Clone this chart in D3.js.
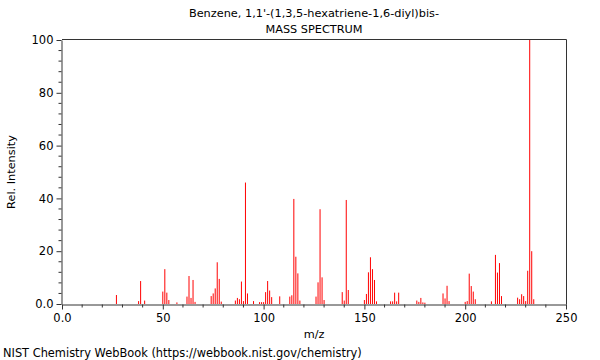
<!DOCTYPE html>
<html>
<head>
<meta charset="utf-8">
<script src="https://cdn.jsdelivr.net/npm/d3@7"></script>
<style>
  body { margin: 0; background: #fff; }
  text { font-family: "DejaVu Sans", sans-serif; }
</style>
</head>
<body>
<svg id="chart" width="600" height="360"></svg>
<script>
const titleLines = ["Benzene, 1,1'-(1,3,5-hexatriene-1,6-diyl)bis-", "MASS SPECTRUM"];
const footer = "NIST Chemistry WebBook (https://webbook.nist.gov/chemistry)";

// m/z and relative intensity
const mz = [27, 38, 39, 41, 50, 51, 52, 53, 57,
  62, 63, 64, 65, 66, 74, 75, 76, 77, 78, 79,
  86, 87, 88, 89, 90, 91, 92, 95, 98, 99, 100, 101, 102, 103, 104, 108,
  113, 114, 115, 116, 117, 118, 126, 127, 128, 129, 130,
  139, 140, 141, 142, 150, 151, 152, 153, 154, 155, 156,
  163, 164, 165, 166, 167, 176, 177, 178, 179, 180,
  189, 190, 191, 192, 200, 201, 202, 203, 204, 205,
  213, 215, 216, 217, 218, 226, 227, 228, 229, 230, 231, 232, 233, 234];
const intensity = [3.4, 1.1, 8.7, 1.3, 4.7, 13.2, 4.3, 1.5, 0.6,
  2.8, 10.6, 2.3, 9.1, 0.8, 3.0, 4.0, 5.9, 15.8, 9.5, 0.9,
  1.3, 2.3, 1.8, 8.5, 1.1, 46, 4.0, 1.1, 0.7, 0.7, 0.7, 4.5, 8.7, 5.1, 2.6, 2.9,
  2.8, 3.3, 39.8, 17.9, 11.6, 1.3, 2.8, 8.2, 35.9, 10.1, 1.5,
  4.5, 1.3, 39.4, 5.3, 1.5, 3.8, 12, 17.7, 13.2, 9.1, 1.0,
  1.0, 1.0, 4.3, 1.0, 4.3, 1.3, 0.8, 2.3, 0.6, 0.5,
  4.0, 2.1, 6.9, 1.1, 0.8, 1.1, 11.5, 6.8, 4.7, 1.8,
  1.0, 18.6, 11.9, 15.5, 3.0, 2.4, 1.8, 3.7, 3.0, 1.1, 12.6, 100, 20, 1.8];

const xTicks = [0, 50, 100, 150, 200, 250];
const xTickLabels = ["0.0", "50", "100", "150", "200", "250"];
const yTicks = [0, 20, 40, 60, 80, 100];
const yTickLabels = ["0.0", "20", "40", "60", "80", "100"];

const svg = d3.select("#chart");
const padL = 62, padR = 566, padT = 40, padB = 304;

const x = d3.scaleLinear().domain([0, 250]).range([padL, padR]);
const y = d3.scaleLinear().domain([0, 100]).range([padB, padT]);

// title
svg.selectAll("text.title")
  .data(titleLines)
  .join("text")
  .attr("class", "title")
  .attr("x", (padL + padR) / 2)
  .attr("y", (d, i) => 17 + i * 16)
  .attr("text-anchor", "middle")
  .attr("font-size", 11.3)
  .attr("fill", "#000")
  .text(d => d);

// peaks
const peaks = mz.map((m, i) => ({ m, v: intensity[i] }));
svg.append("g")
  .selectAll("line")
  .data(peaks)
  .join("line")
  .attr("x1", d => x(d.m)).attr("x2", d => x(d.m))
  .attr("y1", y(0)).attr("y2", d => y(d.v))
  .attr("stroke", "#ff0000")
  .attr("stroke-width", 1);

// x axis
const xAxis = d3.axisBottom(x)
  .tickValues(xTicks)
  .tickFormat((d, i) => xTickLabels[i])
  .tickSizeInner(5).tickSizeOuter(0).tickPadding(4);
const gx = svg.append("g")
  .attr("transform", `translate(0,${padB + 0.5})`)
  .call(xAxis);
gx.append("g").selectAll("line")
  .data(d3.range(0, 251, 10).filter(v => v % 50 !== 0))
  .join("line")
  .attr("x1", d => x(d)).attr("x2", d => x(d))
  .attr("y1", 0).attr("y2", 3)
  .attr("stroke", "#333");

// y axis
const yAxis = d3.axisLeft(y)
  .tickValues(yTicks)
  .tickFormat((d, i) => yTickLabels[i])
  .tickSizeInner(5).tickSizeOuter(0).tickPadding(3);
const gy = svg.append("g")
  .attr("transform", `translate(${padL - 0.5},0)`)
  .call(yAxis);
gy.append("g").selectAll("line")
  .data(d3.range(0, 101, 4).filter(v => v % 20 !== 0))
  .join("line")
  .attr("x1", -3).attr("x2", 0)
  .attr("y1", d => y(d)).attr("y2", d => y(d))
  .attr("stroke", "#333");

svg.selectAll(".tick text")
  .attr("font-size", 11.5)
  .attr("font-family", "DejaVu Sans, sans-serif")
  .attr("fill", "#000");
svg.selectAll(".domain, .tick line").attr("stroke", "#333");

// frame top and right
svg.append("line")
  .attr("x1", padL).attr("x2", padR + 0.5)
  .attr("y1", padT - 0.5).attr("y2", padT - 0.5)
  .attr("stroke", "#333");
svg.append("line")
  .attr("x1", padR + 0.5).attr("x2", padR + 0.5)
  .attr("y1", padT - 0.5).attr("y2", padB + 0.5)
  .attr("stroke", "#333");

// axis labels
svg.append("text")
  .attr("x", (padL + padR) / 2)
  .attr("y", 338)
  .attr("text-anchor", "middle")
  .attr("font-size", 11.3)
  .text("m/z");

svg.append("text")
  .attr("transform", `translate(15,${(padT + padB) / 2}) rotate(-90)`)
  .attr("text-anchor", "middle")
  .attr("font-size", 11.3)
  .text("Rel. Intensity");

svg.append("text")
  .attr("x", 3)
  .attr("y", 357)
  .attr("font-size", 11.4)
  .text(footer);
</script>
</body>
</html>
